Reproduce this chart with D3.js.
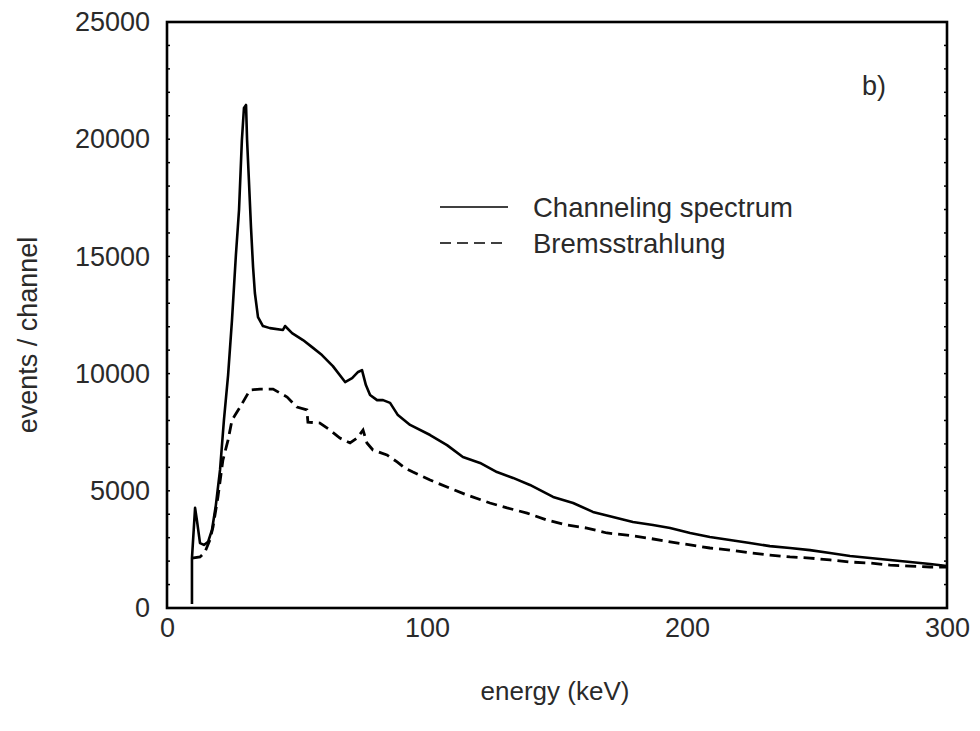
<!DOCTYPE html>
<html>
<head>
<meta charset="utf-8">
<script src="https://cdn.jsdelivr.net/npm/d3@7"></script>
<style>
  body { margin: 0; background: #fff; }
  text { font-family: "Liberation Sans", Arial, sans-serif; fill: #2a2a2a; }
</style>
</head>
<body>
<svg id="chart" width="980" height="731"></svg>
<script>
// energy (keV) and counts
var channelingE = [9.6, 9.6, 10.8, 11.5, 12.7, 14.2, 15.8, 17.3, 18.8, 20.4, 21.9, 23.5, 25.0, 26.5, 27.7, 28.8, 29.6, 30.4, 30.8, 31.5, 32.3, 33.1, 33.8, 35.0, 36.9, 39.6, 44.6, 45.4, 48.1, 52.3, 55.8, 59.6, 63.8, 68.5, 71.2, 73.5, 75.0, 76.5, 78.1, 80.8, 83.1, 85.8, 88.8, 93.5, 101.2, 107.7, 113.8, 120.4, 126.9, 133.1, 139.6, 148.5, 156.2, 163.8, 171.5, 179.2, 186.9, 193.5, 201.2, 208.8, 216.5, 224.2, 231.9, 239.6, 247.3, 255.0, 262.7, 270.4, 278.1, 285.8, 293.5, 300];
var channelingN = [170, 2130, 4270, 3750, 2770, 2690, 2820, 3330, 4390, 5890, 8020, 9940, 12290, 15060, 16980, 19960, 21330, 21460, 19960, 18260, 16250, 14550, 13440, 12410, 12030, 11940, 11860, 12030, 11730, 11430, 11130, 10790, 10320, 9640, 9810, 10070, 10150, 9510, 9090, 8870, 8870, 8750, 8230, 7810, 7380, 6950, 6440, 6190, 5800, 5550, 5250, 4740, 4480, 4100, 3880, 3670, 3540, 3410, 3200, 3030, 2900, 2770, 2640, 2560, 2470, 2350, 2220, 2130, 2050, 1960, 1880, 1790];

var bremsE = [9.6, 12.7, 14.6, 16.5, 17.7, 19.6, 21.5, 23.5, 25.0, 26.2, 28.1, 31.9, 35.8, 40.8, 46.2, 50.0, 53.8, 54.2, 58.8, 62.7, 66.5, 70.4, 73.1, 75.4, 76.9, 79.2, 84.6, 88.5, 91.5, 94.6, 101.2, 107.7, 115.4, 124.2, 130.8, 138.5, 146.2, 153.8, 161.5, 169.2, 176.9, 184.6, 193.5, 201.2, 208.8, 216.5, 224.2, 231.9, 239.6, 247.3, 255.0, 262.7, 270.4, 278.1, 285.8, 293.5, 300];
var bremsN = [2130, 2180, 2390, 2900, 3460, 4740, 6310, 7170, 8020, 8230, 8570, 9300, 9340, 9340, 9000, 8570, 8450, 7930, 7890, 7590, 7250, 7040, 7250, 7590, 7040, 6740, 6530, 6230, 5970, 5800, 5460, 5160, 4820, 4480, 4270, 4050, 3750, 3540, 3410, 3200, 3110, 2990, 2820, 2690, 2560, 2470, 2350, 2260, 2180, 2130, 2050, 1960, 1920, 1830, 1790, 1750, 1750];

var xTicks = [0, 100, 200, 300];
var yTicks = [0, 5000, 10000, 15000, 20000, 25000];
var legendLabels = ["Channeling spectrum", "Bremsstrahlung"];

(function(){
  var svg = d3.select("#chart");
  var pl = 167, pr = 947, pt = 22, pb = 608;

  var x = d3.scaleLinear().domain([0, 300]).range([pl, pr]);
  var y = d3.scaleLinear().domain([0, 25000]).range([pb, pt]);

  // frame
  svg.append("rect")
     .attr("x", pl).attr("y", pt)
     .attr("width", pr - pl).attr("height", pb - pt)
     .attr("fill", "none").attr("stroke", "#000").attr("stroke-width", 2.6);

  // small inward ticks on left and right edges
  var minor = d3.range(1000, 25000, 1000);
  svg.append("g").selectAll("line").data(minor).enter().append("line")
     .attr("x1", pl).attr("x2", pl + 3)
     .attr("y1", function(d){ return y(d); }).attr("y2", function(d){ return y(d); })
     .attr("stroke", "#000").attr("stroke-width", 1.5);
  svg.append("g").selectAll("line").data(minor).enter().append("line")
     .attr("x1", pr).attr("x2", pr - 3)
     .attr("y1", function(d){ return y(d); }).attr("y2", function(d){ return y(d); })
     .attr("stroke", "#000").attr("stroke-width", 1.5);

  // tick labels through d3 axes, no domain line or tick marks
  var xAxis = svg.append("g")
     .attr("transform", "translate(0," + pb + ")")
     .call(d3.axisBottom(x).tickValues(xTicks).tickSize(0).tickPadding(10).tickFormat(d3.format("d")));
  var yAxis = svg.append("g")
     .attr("transform", "translate(" + pl + ",0)")
     .call(d3.axisLeft(y).tickValues(yTicks).tickSize(0).tickPadding(17).tickFormat(d3.format("d")));
  [xAxis, yAxis].forEach(function(a){
    a.select(".domain").remove();
    a.selectAll("text").style("font-size", "27px").attr("fill", "#2a2a2a")
     .style("font-family", "'Liberation Sans', Arial, sans-serif");
  });

  // curves
  var line = d3.line()
     .x(function(d){ return x(d[0]); })
     .y(function(d){ return y(d[1]); });

  svg.append("path")
     .datum(d3.zip(bremsE, bremsN))
     .attr("d", line)
     .attr("fill", "none").attr("stroke", "#000")
     .attr("stroke-width", 2.8).attr("stroke-dasharray", "11,6");

  svg.append("path")
     .datum(d3.zip(channelingE, channelingN))
     .attr("d", line)
     .attr("fill", "none").attr("stroke", "#000")
     .attr("stroke-width", 2.6).attr("stroke-linejoin", "round");

  // legend
  var legend = svg.append("g");
  legendLabels.forEach(function(lbl, i){
    var ly = 207 + i * 36;
    legend.append("line")
       .attr("x1", 440).attr("x2", 508).attr("y1", ly).attr("y2", ly)
       .attr("stroke", "#000").attr("stroke-width", 1.6)
       .attr("stroke-dasharray", i === 1 ? "11,6" : null);
    legend.append("text")
       .attr("x", 533).attr("y", ly + 10)
       .style("font-size", "27.5px")
       .text(lbl);
  });

  svg.append("text").attr("x", 862).attr("y", 95).style("font-size", "27px").text("b)");

  // axis titles
  svg.append("text")
     .attr("x", 555).attr("y", 700)
     .attr("text-anchor", "middle")
     .style("font-size", "26px")
     .text("energy (keV)");

  svg.append("text")
     .attr("transform", "translate(37,335) rotate(-90)")
     .attr("text-anchor", "middle")
     .style("font-size", "27px")
     .attr("fill", "#444")
     .text("events / channel");
})();
</script>
</body>
</html>
